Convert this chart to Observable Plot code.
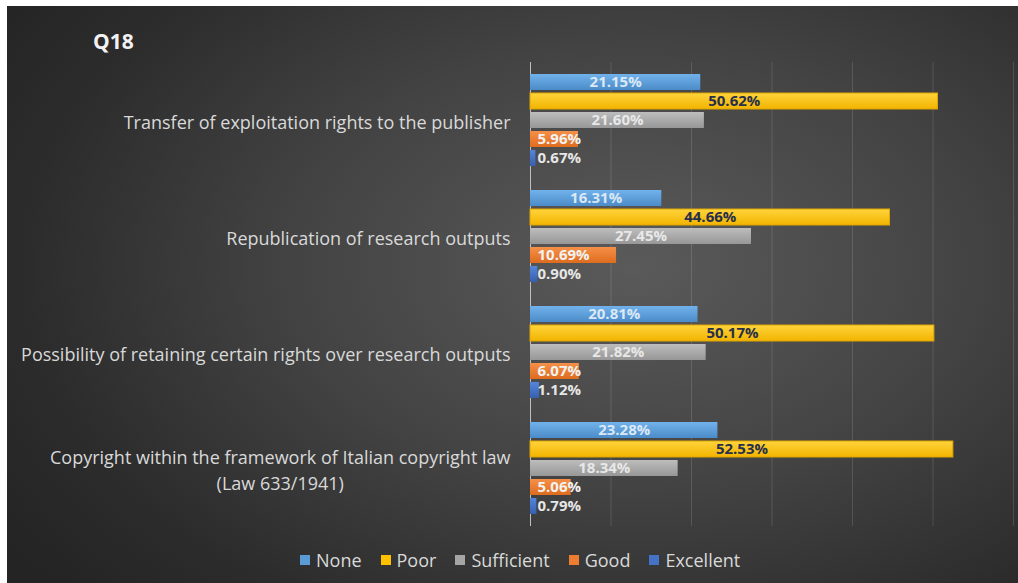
<!DOCTYPE html>
<html>
<head>
<meta charset="utf-8">
<script src="https://cdn.jsdelivr.net/npm/d3@7"></script>
<script src="https://cdn.jsdelivr.net/npm/@observablehq/plot@0.6"></script>
<style>
  html, body { margin: 0; padding: 0; background: #ffffff; }
  #page { position: relative; width: 1018px; height: 583px; background: #fff; overflow: hidden; }
  #card { position: absolute; left: 7px; top: 6px; width: 1011px; height: 577px;
    background: radial-gradient(ellipse 75% 85% at 62% 45%, #5a5a5a 0%, #434343 45%, #2c2c2c 80%, #242424 100%);
    font-family: "Open Sans", Lato, sans-serif; }
  #title { position: absolute; left: 86px; top: 21px; color: #f2f2f2; font-weight: bold; font-size: 21px; }
  #chart { position: absolute; left: 0; top: 0; }
  #legend { position: absolute; left: 293px; top: 542px; display: flex; gap: 19px; color: #d9d9d9; font-size: 18px; align-items: center; }
  #legend .it { display: flex; align-items: center; gap: 6px; }
  #legend .sw { width: 10px; height: 10px; display: inline-block; }
</style>
</head>
<body>
<div id="page"><div id="card">
  <div id="title">Q18</div>
  <div id="chart"></div>
  <div id="legend"></div>
</div></div>
<script>
const questions = [
  "Transfer of exploitation rights to the publisher",
  "Republication of research outputs",
  "Possibility of retaining certain rights over research outputs",
  "Copyright within the framework of Italian copyright law\n(Law 633/1941)"
];
const categories = ["None", "Poor", "Sufficient", "Good", "Excellent"];
const noneValues = [21.15, 16.31, 20.81, 23.28];
const poorValues = [50.62, 44.66, 50.17, 52.53];
const sufficientValues = [21.60, 27.45, 21.82, 18.34];
const goodValues = [5.96, 10.69, 6.07, 5.06];
const excellentValues = [0.67, 0.90, 1.12, 0.79];
const gridTicks = [10, 20, 30, 40, 50, 60];

const colors = ["#5b9bd5", "#ffc000", "#a5a5a5", "#ed7d31", "#4472c4"];
const gradTop = ["#72b2ec", "#ffd43c", "#bdbdbd", "#f69048", "#5586db"];
const gradBot = ["#4b8bc7", "#f2b400", "#979797", "#de6c1e", "#365fae"];
const labelColors = ["#dbe8f6", "#27304a", "#e8e8e8", "#f2f2f2", "#e6e6e6"];

const seriesValues = [noneValues, poorValues, sufficientValues, goodValues, excellentValues];
const rows = [];
categories.forEach((c, ci) => {
  questions.forEach((q, qi) => rows.push({question: q, category: c, ci, value: seriesValues[ci][qi]}));
});

const marks = [
  Plot.gridX(gridTicks, {stroke: "#ffffff", strokeOpacity: 0.13}),
  Plot.ruleX([0], {stroke: "#bfbfbf", strokeWidth: 1})
];
categories.forEach((c, ci) => {
  const d = rows.filter(r => r.ci === ci);
  marks.push(Plot.barX(d, {
    x: "value", y: "category", fy: "question",
    fill: `url(#grad${ci})`,
    stroke: ci === 1 ? "#e0a600" : "none", strokeWidth: 1
  }));
  const inside = ci <= 2;
  marks.push(Plot.text(d, {
    x: inside ? (r => r.value / 2) : (r => 0),
    y: "category", fy: "question",
    text: r => r.value.toFixed(2) + "%",
    textAnchor: inside ? "middle" : "start",
    dx: inside ? 0 : 7,
    fill: labelColors[ci],
    fontWeight: "bold", fontSize: 15
  }));
});
marks.push(Plot.axisFy({anchor: "left", label: null, tickSize: 0, tickPadding: 20, fontSize: 18, lineHeight: 1.45, fill: "#d9d9d9"}));

const chart = Plot.plot({
  width: 1011, height: 540,
  marginLeft: 523, marginRight: 5, marginTop: 55, marginBottom: 19,
  style: {background: "transparent", fontFamily: "'Open Sans', Lato, sans-serif", overflow: "visible"},
  x: {domain: [0, 60], axis: null},
  y: {domain: categories, paddingInner: 0.15, paddingOuter: 0.4875, axis: null},
  fy: {domain: questions, padding: 0, axis: null},
  marks
});

// gradient defs for the bars
const ns = "http://www.w3.org/2000/svg";
const defs = document.createElementNS(ns, "defs");
categories.forEach((c, ci) => {
  const lg = document.createElementNS(ns, "linearGradient");
  lg.setAttribute("id", "grad" + ci);
  lg.setAttribute("x1", "0"); lg.setAttribute("y1", "0"); lg.setAttribute("x2", "0"); lg.setAttribute("y2", "1");
  [[0, gradTop[ci]], [1, gradBot[ci]]].forEach(([o, col]) => {
    const s = document.createElementNS(ns, "stop");
    s.setAttribute("offset", o); s.setAttribute("stop-color", col);
    lg.appendChild(s);
  });
  defs.appendChild(lg);
});
chart.insertBefore(defs, chart.firstChild);
document.getElementById("chart").appendChild(chart);

// center-align multi-line facet labels as a block
chart.querySelectorAll('g[aria-label="fy-axis tick label"] text').forEach(t => {
  const spans = t.querySelectorAll("tspan");
  if (spans.length > 1) {
    let w = 0;
    spans.forEach(s => { w = Math.max(w, s.getComputedTextLength()); });
    t.setAttribute("text-anchor", "middle");
    spans.forEach(s => s.setAttribute("x", -w / 2));
  }
});

// legend
const legend = document.getElementById("legend");
categories.forEach((c, ci) => {
  const it = document.createElement("div"); it.className = "it";
  const sw = document.createElement("span"); sw.className = "sw"; sw.style.background = colors[ci];
  const tx = document.createElement("span"); tx.textContent = c;
  it.appendChild(sw); it.appendChild(tx); legend.appendChild(it);
});
</script>
</body>
</html>
